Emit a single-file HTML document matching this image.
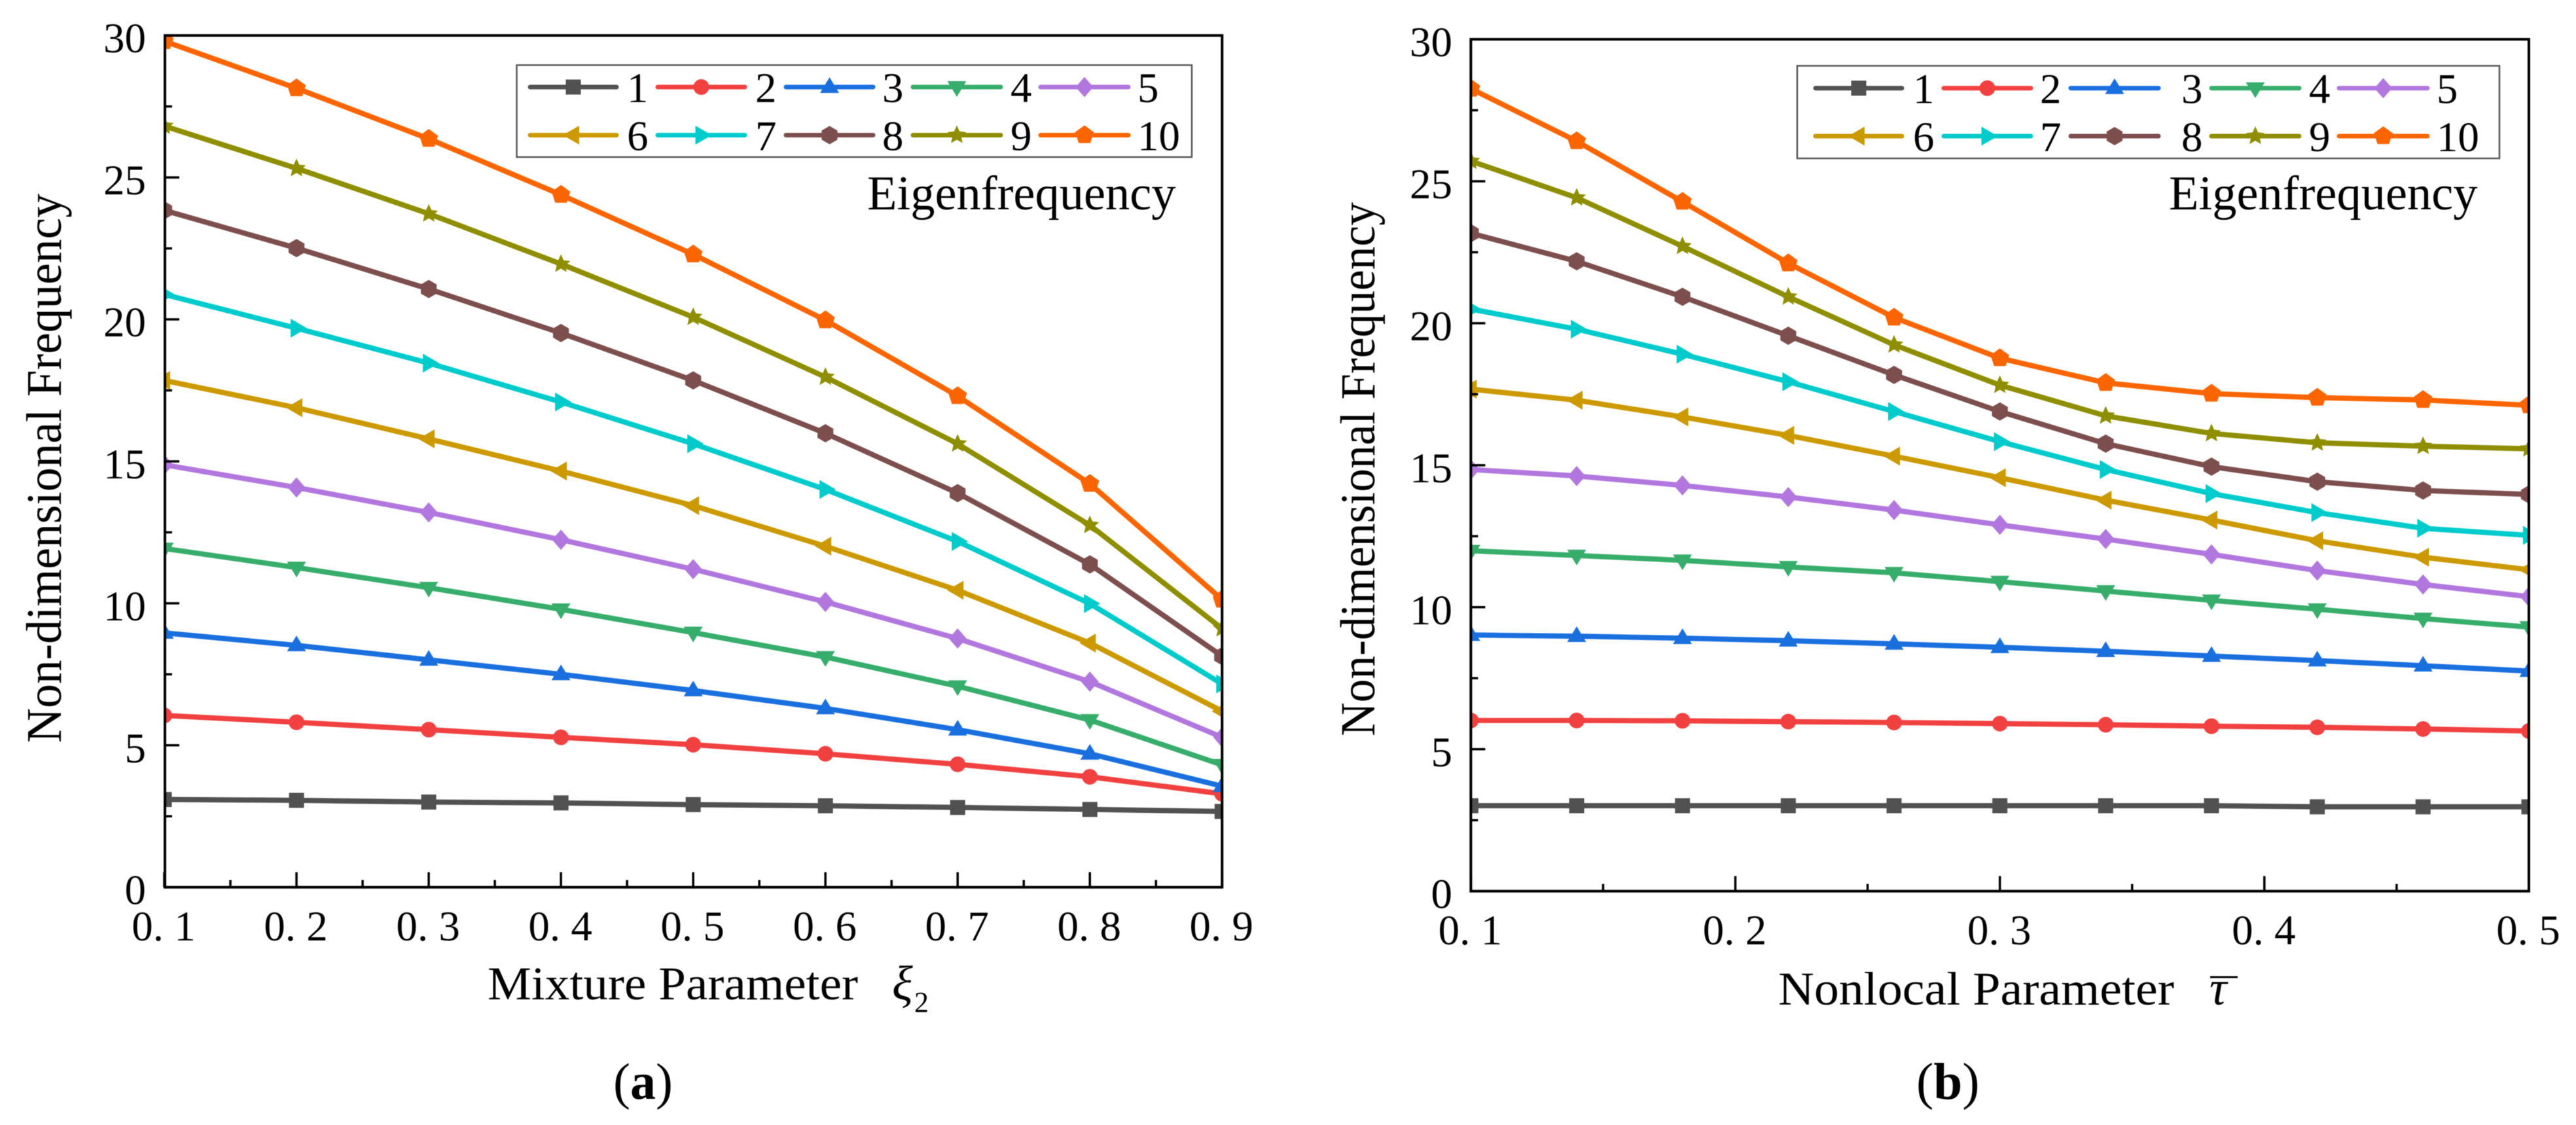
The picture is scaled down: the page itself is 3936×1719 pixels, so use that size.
<!DOCTYPE html>
<html lang="en">
<head>
<meta charset="utf-8">
<title>Non-dimensional Frequency Charts</title>
<style>
html,body{margin:0;padding:0;background:#fff;}
#figure{display:block;width:3936px;height:1719px;font-family:"Liberation Serif",serif;fill:#000;filter:blur(0.6px);}
</style>
</head>
<body>
<svg id="figure" xmlns="http://www.w3.org/2000/svg" width="3936" height="1719" viewBox="0 0 3936 1719">
  <defs>
    <clipPath id="clip-a"><rect x="251" y="54" width="1616" height="1302"/></clipPath>
    <clipPath id="clip-b"><rect x="2247" y="60" width="1617" height="1302"/></clipPath>
  </defs>
  <g id="panel-a">
    <text x="93" y="1135" transform="rotate(-90 93 1135)" font-size="76" textLength="839" lengthAdjust="spacingAndGlyphs">Non-dimensional Frequency</text>
    <text x="745" y="1527" font-size="72" textLength="566" lengthAdjust="spacingAndGlyphs">Mixture Parameter</text>
    <text x="1363" y="1527" font-size="74" font-style="italic">ξ</text>
    <text x="1397" y="1546" font-size="44">2</text>
    <text x="1325" y="320" font-size="74.5">Eigenfrequency</text>
    <text x="937" y="1679" font-size="78">(<tspan font-weight="bold">a</tspan>)</text>
  </g>
  <g id="panel-b">
    <text x="2100" y="1125" transform="rotate(-90 2100 1125)" font-size="75" textLength="816" lengthAdjust="spacingAndGlyphs">Non-dimensional Frequency</text>
    <text x="2717" y="1535" font-size="72" textLength="605" lengthAdjust="spacingAndGlyphs">Nonlocal Parameter</text>
    <text x="3376" y="1535" font-size="74" font-style="italic">τ</text>
    <line x1="3377" y1="1493" x2="3419" y2="1493" stroke="#000" stroke-width="3"/>
    <text x="3314" y="320" font-size="74.5">Eigenfrequency</text>
    <text x="2928" y="1679" font-size="79">(<tspan font-weight="bold">b</tspan>)</text>
  </g>
</svg>
<script>
// ---------- Data: panel (a) ----------
const xValuesA = [0.1,0.2,0.3,0.4,0.5,0.6,0.7,0.8,0.9];
const a1  = [3.09,3.06,3.00,2.97,2.91,2.87,2.81,2.74,2.67];
const a2  = [6.05,5.81,5.55,5.28,5.02,4.70,4.33,3.89,3.29];
const a3  = [8.96,8.52,8.01,7.50,6.93,6.30,5.55,4.70,3.56];
const a4  = [11.93,11.26,10.55,9.79,8.97,8.11,7.08,5.89,4.31];
const a5  = [14.88,14.08,13.20,12.24,11.20,10.05,8.76,7.24,5.28];
const a6  = [17.85,16.89,15.79,14.66,13.44,12.01,10.46,8.60,6.20];
const a7  = [20.88,19.69,18.46,17.09,15.62,14.01,12.18,9.99,7.16];
const a8  = [23.84,22.51,21.07,19.52,17.85,15.99,13.88,11.37,8.14];
const a9  = [26.81,25.32,23.72,21.95,20.08,17.97,15.62,12.75,9.11];
const a10 = [29.80,28.14,26.36,24.39,22.29,19.97,17.30,14.21,10.13];

// ---------- Data: panel (b) ----------
const xValuesB = [0.10,0.14,0.18,0.22,0.26,0.30,0.34,0.38,0.42,0.46,0.50];
const b1  = [3.01,3.01,3.01,3.01,3.01,3.01,3.01,3.01,2.97,2.97,2.97];
const b2  = [6.01,6.01,6.00,5.97,5.94,5.90,5.86,5.81,5.77,5.71,5.64];
const b3  = [9.02,8.98,8.91,8.82,8.71,8.59,8.45,8.28,8.12,7.94,7.75];
const b4  = [11.99,11.82,11.65,11.42,11.21,10.90,10.57,10.24,9.93,9.60,9.30];
const b5  = [14.85,14.62,14.29,13.88,13.42,12.90,12.40,11.86,11.29,10.80,10.37];
const b6  = [17.68,17.29,16.70,16.05,15.32,14.56,13.77,13.07,12.34,11.76,11.32];
const b7  = [20.50,19.79,18.91,17.94,16.89,15.83,14.85,14.00,13.33,12.78,12.53];
const b8  = [23.17,22.18,20.93,19.56,18.18,16.89,15.76,14.95,14.42,14.11,13.97];
const b9  = [25.71,24.42,22.71,20.93,19.24,17.82,16.74,16.12,15.79,15.67,15.58];
const b10 = [28.26,26.41,24.28,22.11,20.20,18.77,17.90,17.52,17.38,17.30,17.11];

// ---------- Categories and tick labels ----------
const seriesLabels = ["1","2","3","4","5","6","7","8","9","10"];
const yTickValues = [0,5,10,15,20,25,30];
const yMinorTickValues = [2.5,7.5,12.5,17.5,22.5,27.5];
const xTicksA = [0.1,0.2,0.3,0.4,0.5,0.6,0.7,0.8,0.9];
const xTickLabelsA = ["0. 1","0. 2","0. 3","0. 4","0. 5","0. 6","0. 7","0. 8","0. 9"];
const xMinorTicksA = [0.15,0.25,0.35,0.45,0.55,0.65,0.75,0.85];
const xTicksB = [0.1,0.2,0.3,0.4,0.5];
const xTickLabelsB = ["0. 1","0. 2","0. 3","0. 4","0. 5"];
const xMinorTicksB = [0.15,0.25,0.35,0.45];
const seriesA = [a1,a2,a3,a4,a5,a6,a7,a8,a9,a10];
const seriesB = [b1,b2,b3,b4,b5,b6,b7,b8,b9,b10];

// ---------- Styling ----------
const seriesColors = ["#515151","#F14040","#1A6FDF","#37AD6B","#B177DE","#CC9900","#00CBCC","#7D4E4E","#8E8E00","#FB6501"];
const markerKinds = ["square","circle","up","down","diamond","left","right","hexagon","star","pentagon"];
const SVG_NS = "http://www.w3.org/2000/svg";

function make(tag, parent, attrs) {
  const el = document.createElementNS(SVG_NS, tag);
  for (const k in attrs) el.setAttribute(k, attrs[k]);
  parent.appendChild(el);
  return el;
}
function regular(cx, cy, n, r, rotDeg) {
  const p = [];
  for (let i = 0; i < n; i++) {
    const t = (rotDeg + i * 360 / n) * Math.PI / 180;
    p.push((cx + r * Math.cos(t)).toFixed(1) + "," + (cy + r * Math.sin(t)).toFixed(1));
  }
  return p.join(" ");
}
function starPoints(cx, cy, R, r) {
  const p = [];
  for (let i = 0; i < 10; i++) {
    const t = (-90 + i * 36) * Math.PI / 180;
    const q = i % 2 ? r : R;
    p.push((cx + q * Math.cos(t)).toFixed(1) + "," + (cy + q * Math.sin(t)).toFixed(1));
  }
  return p.join(" ");
}
function drawMarker(parent, kind, cx, cy, color) {
  let el;
  if (kind === "square") {
    el = make("rect", parent, {x: cx - 11.5, y: cy - 11.5, width: 23, height: 23, fill: color});
  } else if (kind === "circle") {
    el = make("circle", parent, {cx: cx, cy: cy, r: 12, fill: color});
  } else {
    let pts;
    if (kind === "up") pts = `${cx},${cy-15} ${cx+14.5},${cy+9} ${cx-14.5},${cy+9}`;
    if (kind === "down") pts = `${cx},${cy+15} ${cx+14.5},${cy-9} ${cx-14.5},${cy-9}`;
    if (kind === "left") pts = `${cx-16},${cy} ${cx+9},${cy-14.5} ${cx+9},${cy+14.5}`;
    if (kind === "right") pts = `${cx+16},${cy} ${cx-9},${cy-14.5} ${cx-9},${cy+14.5}`;
    if (kind === "diamond") pts = `${cx},${cy-15.5} ${cx+13.5},${cy} ${cx},${cy+15.5} ${cx-13.5},${cy}`;
    if (kind === "hexagon") pts = regular(cx, cy, 6, 14, -90);
    if (kind === "pentagon") pts = regular(cx, cy, 5, 15, -90);
    if (kind === "star") pts = starPoints(cx, cy, 15, 7);
    el = make("polygon", parent, {points: pts, fill: color});
  }
  return el;
}

function drawPanel(cfg) {
  const root = document.getElementById(cfg.rootId);
  const sx = v => cfg.left + (v - cfg.xMin) / (cfg.xMax - cfg.xMin) * (cfg.right - cfg.left);
  const sy = v => cfg.bottom - (v - 0) / (30 - 0) * (cfg.bottom - cfg.top);

  // series
  const plot = make("g", root, {"clip-path": "url(#" + cfg.clipId + ")"});
  
  
  cfg.series.forEach((vals, i) => {
    const g = make("g", plot, {});
    
    
    const pts = vals.map((v, j) => sx(cfg.xValues[j]).toFixed(1) + "," + sy(v).toFixed(1)).join(" ");
    const line = make("polyline", g, {points: pts, fill: "none", stroke: seriesColors[i], "stroke-width": 8, "stroke-linejoin": "round"});
    
    
    vals.forEach((v, j) => {
      const m = drawMarker(g, markerKinds[i], sx(cfg.xValues[j]), sy(v), seriesColors[i]);
      
      
    });
  });

  // axis frame
  const frame = make("rect", root, {x: cfg.frameLeft, y: cfg.top, width: cfg.right - cfg.frameLeft, height: cfg.bottom - cfg.top, fill: "none", stroke: "#000", "stroke-width": 4});
  
  

  // y ticks
  yTickValues.forEach(v => {
    const t = make("line", root, {x1: cfg.frameLeft, x2: cfg.frameLeft + 22, y1: sy(v), y2: sy(v), stroke: "#000", "stroke-width": 3.5});
    
    
    const l = make("text", root, {x: cfg.yLabelX, y: sy(v) + 26, "font-size": 65, "text-anchor": "end"});
    
    
    l.textContent = String(v);
  });
  yMinorTickValues.forEach(v => {
    const t = make("line", root, {x1: cfg.frameLeft, x2: cfg.frameLeft + 11, y1: sy(v), y2: sy(v), stroke: "#000", "stroke-width": 3.5});
    
    
  });

  // x ticks
  cfg.xTicks.forEach((v, i) => {
    const t = make("line", root, {x1: sx(v), x2: sx(v), y1: cfg.bottom, y2: cfg.bottom - 23, stroke: "#000", "stroke-width": 3.5});
    
    
    const l = make("text", root, {x: sx(v) - 1, y: cfg.xLabelY, "font-size": 65, "text-anchor": "middle"});
    
    
    l.textContent = cfg.xTickLabels[i];
  });
  cfg.xMinor.forEach(v => {
    const t = make("line", root, {x1: sx(v), x2: sx(v), y1: cfg.bottom, y2: cfg.bottom - 11, stroke: "#000", "stroke-width": 3.5});
    
    
  });

  // legend
  const L = cfg.legend;
  const lg = make("g", root, {});
  
  
  const box = make("rect", lg, {x: L.left, y: L.top, width: L.right - L.left, height: L.bottom - L.top, fill: "#fff", stroke: "#555", "stroke-width": 2.5});
  
  
  seriesLabels.forEach((name, i) => {
    const col = i % 5, row = i < 5 ? 0 : 1;
    const c = L.cols[col];
    const y = L.rows[row];
    const e = make("g", lg, {});
    
    
    const sw = make("line", e, {x1: c.a + 3, x2: c.b - 3, y1: y, y2: y, stroke: seriesColors[i], "stroke-width": 7, "stroke-linecap": "round"});
    
    
    const m = drawMarker(e, markerKinds[i], (c.a + c.b) / 2, y, seriesColors[i]);
    
    
    const t = make("text", e, {x: c.t, y: y + L.textDy, "font-size": 65});
    
    
    t.textContent = name;
  });
}

drawPanel({
  rootId: "panel-a", clipId: "clip-a", suffix: "a",
  left: 251, frameLeft: 252, right: 1867.3, top: 54.2, bottom: 1355.7,
  xMin: 0.1, xMax: 0.9, yLabelX: 223, xLabelY: 1437,
  xValues: xValuesA, series: seriesA,
  xTicks: xTicksA, xTickLabels: xTickLabelsA, xMinor: xMinorTicksA,
  legend: {
    left: 789.5, right: 1821, top: 99.5, bottom: 240, rows: [133, 206.5], textDy: 23,
    cols: [{a:807,b:945,t:958},{a:1002,b:1141,t:1154},{a:1198,b:1337,t:1348},{a:1392,b:1532,t:1544},{a:1587,b:1727,t:1738}]
  }
});
drawPanel({
  rootId: "panel-b", clipId: "clip-b", suffix: "b",
  left: 2247.4, frameLeft: 2247.4, right: 3864, top: 60, bottom: 1361.7,
  xMin: 0.1, xMax: 0.5, yLabelX: 2219, xLabelY: 1443,
  xValues: xValuesB, series: seriesB,
  xTicks: xTicksB, xTickLabels: xTickLabelsB, xMinor: xMinorTicksB,
  legend: {
    left: 2746, right: 3819, top: 100.5, bottom: 242, rows: [134.7, 208], textDy: 23,
    cols: [{a:2771,b:2909,t:2923},{a:2967,b:3106,t:3117},{a:3161,b:3301,t:3333},{a:3376,b:3516,t:3528},{a:3571,b:3712,t:3723}]
  }
});
</script>
</body>
</html>
